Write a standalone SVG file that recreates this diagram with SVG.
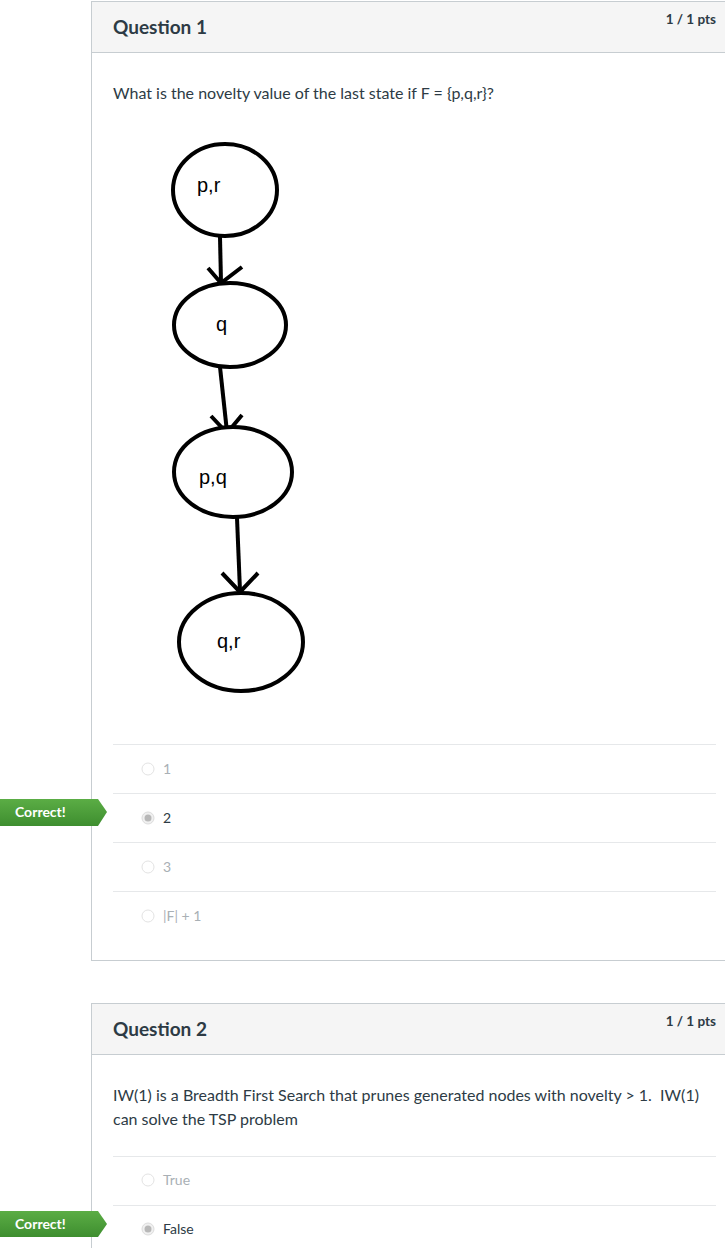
<svg xmlns="http://www.w3.org/2000/svg" width="725" height="1248" viewBox="0 0 725 1248">
<style>
.card{fill:#fff;stroke:#c7cdd1;stroke-width:1}
.hdr{fill:#f5f5f5}
.hline{stroke:#c7cdd1;stroke-width:1}
.qt{font-family:Lato,"Liberation Sans",sans-serif;font-weight:bold;font-size:19px;fill:#2d3b45}
.pts{font-family:Lato,"Liberation Sans",sans-serif;font-weight:bold;font-size:13.5px;fill:#2d3b45;text-anchor:end}
.body{font-family:Lato,"Liberation Sans",sans-serif;font-size:16px;fill:#2d3b45}
.opt{font-family:Lato,"Liberation Sans",sans-serif;font-size:14px;fill:#a9b0b5}
.optsel{font-family:Lato,"Liberation Sans",sans-serif;font-size:14px;fill:#2d3b45}
.sep{stroke:#e6e8ea;stroke-width:1}
.radio{fill:#fff;stroke:#e3e3e3;stroke-width:1}
.radiosel{fill:#f0f0f0;stroke:#dcdcdc;stroke-width:1}
.dot{fill:#b8b8b8}
.badge{fill:url(#g)}
.badgetxt{font-family:Lato,"Liberation Sans",sans-serif;font-weight:bold;font-size:14px;fill:#fff}
.node{fill:#fff;stroke:#000;stroke-width:4}
.lbl{font-family:"Liberation Sans",Arial,sans-serif;font-size:20px;fill:#000}
.edge{stroke:#000;stroke-width:4;fill:none;stroke-linecap:butt}
</style>
<defs>
<linearGradient id="g" x1="0" y1="0" x2="0" y2="1">
<stop offset="0" stop-color="#5bad45"/>
<stop offset="1" stop-color="#3e8e2f"/>
</linearGradient>
</defs>
<rect width="725" height="1248" fill="#fff"/>

<!-- Card 1 -->
<g id="card1">
<rect class="card" x="91.5" y="1.5" width="700" height="959"/>
<rect class="hdr" x="92" y="2" width="699" height="50"/>
<line class="hline" x1="92" y1="52.5" x2="725" y2="52.5"/>
<text class="qt" x="113" y="34">Question 1</text>
<text class="pts" x="716" y="24">1 / 1 pts</text>
<text class="body" x="113" y="99">What is the novelty value of the last state if F = {p,q,r}?</text>
</g>

<!-- Graph -->
<g id="connectors">
<path class="edge" d="M220,237 L221,282"/>
<path class="edge" d="M208,268 L221,283 L242,267"/>
<path class="edge" d="M220,367 L227,432"/>
<path class="edge" d="M211,416 L227,433 L242,415"/>
<path class="edge" d="M237,518 L240,591"/>
<path class="edge" d="M222,573 L240,592 L258,573"/>
</g>
<g id="node-pr">
<ellipse class="node" cx="225" cy="190" rx="52" ry="46"/>
<text class="lbl" x="197" y="192">p,r</text>
</g>
<g id="node-q">
<ellipse class="node" cx="230" cy="325" rx="56" ry="42"/>
<text class="lbl" x="216" y="331">q</text>
</g>
<g id="node-pq">
<ellipse class="node" cx="233" cy="472" rx="59" ry="45"/>
<text class="lbl" x="199" y="484">p,q</text>
</g>
<g id="node-qr">
<ellipse class="node" cx="241" cy="642" rx="62" ry="49"/>
<text class="lbl" x="217" y="648">q,r</text>
</g>

<!-- Options Q1 -->
<g id="options1">
<line class="sep" x1="113" y1="744.5" x2="716" y2="744.5"/>
<circle class="radio" cx="148" cy="769" r="6"/>
<text class="opt" x="163" y="774">1</text>
<line class="sep" x1="113" y1="793.5" x2="716" y2="793.5"/>
<circle class="radiosel" cx="148" cy="818" r="6"/>
<circle class="dot" cx="148" cy="818" r="3.5"/>
<text class="optsel" x="163" y="823">2</text>
<line class="sep" x1="113" y1="842.5" x2="716" y2="842.5"/>
<circle class="radio" cx="148" cy="867" r="6"/>
<text class="opt" x="163" y="872">3</text>
<line class="sep" x1="113" y1="891.5" x2="716" y2="891.5"/>
<circle class="radio" cx="148" cy="916" r="6"/>
<text class="opt" x="163" y="921">|F| + 1</text>
</g>
<g id="badge1">
<path class="badge" d="M0,799 L98,799 L107,812 L98,826 L0,826 Z"/>
<text class="badgetxt" x="15" y="817">Correct!</text>
</g>

<!-- Card 2 -->
<g id="card2">
<rect class="card" x="91.5" y="1003.5" width="700" height="300"/>
<rect class="hdr" x="92" y="1004" width="699" height="50"/>
<line class="hline" x1="92" y1="1054.5" x2="725" y2="1054.5"/>
<text class="qt" x="113" y="1036">Question 2</text>
<text class="pts" x="716" y="1026">1 / 1 pts</text>
<text class="body" x="113" y="1101" xml:space="preserve">IW(1) is a Breadth First Search that prunes generated nodes with novelty &gt; 1.  IW(1)</text>
<text class="body" x="113" y="1125">can solve the TSP problem</text>
</g>
<g id="options2">
<line class="sep" x1="113" y1="1156.5" x2="716" y2="1156.5"/>
<circle class="radio" cx="148" cy="1180" r="6"/>
<text class="opt" x="163" y="1185">True</text>
<line class="sep" x1="113" y1="1205.5" x2="716" y2="1205.5"/>
<circle class="radiosel" cx="148" cy="1229" r="6"/>
<circle class="dot" cx="148" cy="1229" r="3.5"/>
<text class="optsel" x="163" y="1234">False</text>
</g>
<g id="badge2">
<path class="badge" d="M0,1211 L98,1211 L107,1224 L98,1237 L0,1237 Z"/>
<text class="badgetxt" x="15" y="1229">Correct!</text>
</g>
</svg>
